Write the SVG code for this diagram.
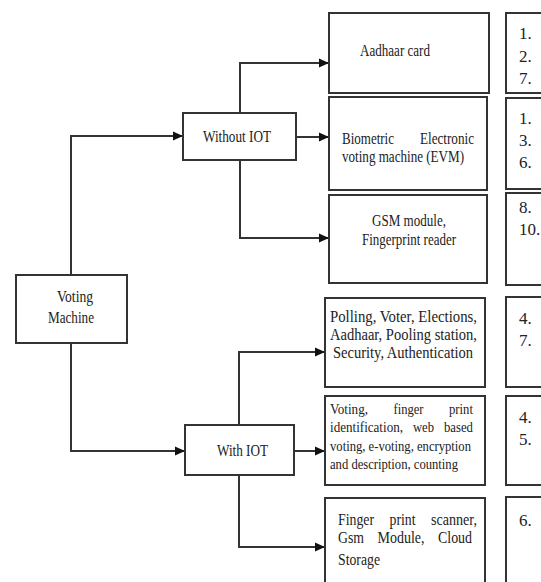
<svg xmlns="http://www.w3.org/2000/svg" width="541" height="582" viewBox="0 0 541 582">
<defs>
<marker id="ah" markerWidth="10" markerHeight="10" refX="10" refY="5" orient="auto" markerUnits="userSpaceOnUse">
<path d="M0,0.5 L10,5 L0,9.5 Z" fill="#111"/>
</marker>
<style>
.box{fill:#fff;stroke:#333;stroke-width:2}
.t{font-family:"Liberation Serif","Times New Roman",serif;font-size:16px;fill:#222}
.m{font-size:16px}
.s{font-size:14px}
.n{font-size:17px}
.c{stroke:#333;stroke-width:2;fill:none}
.a{marker-end:url(#ah)}
</style>
</defs>
<rect width="541" height="582" fill="#fff"/>
<g id="connectors">
<path class="c a" d="M71,275 V136 H183"/>
<path class="c a" d="M71,343 V451 H185"/>
<path class="c a" d="M240,113 V63 H329"/>
<path class="c a" d="M296,137 H329"/>
<path class="c a" d="M240,160 V238 H329"/>
<path class="c a" d="M239,425 V352 H325"/>
<path class="c a" d="M294,451 H325"/>
<path class="c a" d="M239,475 V547 H325"/>
</g>
<g id="voting-machine">
<rect class="box" x="16" y="275" width="111" height="68"/>
<text class="t" x="57" y="302" textLength="36" lengthAdjust="spacingAndGlyphs">Voting</text>
<text class="t" x="48" y="323" textLength="46" lengthAdjust="spacingAndGlyphs">Machine</text>
</g>
<g id="without-iot">
<rect class="box" x="183" y="113" width="113" height="47"/>
<text class="t" x="203" y="142" textLength="68" lengthAdjust="spacingAndGlyphs">Without IOT</text>
</g>
<g id="with-iot">
<rect class="box" x="185" y="425" width="109" height="50"/>
<text class="t" x="217" y="456" textLength="51" lengthAdjust="spacingAndGlyphs">With IOT</text>
</g>
<g id="aadhaar-card">
<rect class="box" x="329" y="13" width="160" height="80"/>
<text class="t" x="360" y="56" textLength="70" lengthAdjust="spacingAndGlyphs">Aadhaar card</text>
</g>
<g id="biometric-evm">
<rect class="box" x="329" y="97" width="158" height="93"/>
<text class="t" x="342" y="144" textLength="52" lengthAdjust="spacingAndGlyphs">Biometric</text>
<text class="t" x="420" y="144" textLength="54" lengthAdjust="spacingAndGlyphs">Electronic</text>
<text class="t" x="342" y="162" textLength="122" lengthAdjust="spacingAndGlyphs">voting machine (EVM)</text>
</g>
<g id="gsm-fingerprint">
<rect class="box" x="329" y="195" width="158" height="88"/>
<text class="t" x="372" y="226" textLength="74" lengthAdjust="spacingAndGlyphs">GSM module,</text>
<text class="t" x="362" y="245" textLength="94" lengthAdjust="spacingAndGlyphs">Fingerprint reader</text>
</g>
<g id="polling-voter">
<rect class="box" x="325" y="298" width="160" height="89"/>
<text class="t m" x="330" y="322" textLength="147" lengthAdjust="spacingAndGlyphs">Polling, Voter, Elections,</text>
<text class="t m" x="330" y="340" textLength="147" lengthAdjust="spacingAndGlyphs">Aadhaar, Pooling station,</text>
<text class="t m" x="333" y="358" textLength="140" lengthAdjust="spacingAndGlyphs">Security, Authentication</text>
</g>
<g id="voting-fingerprint">
<rect class="box" x="325" y="396" width="160" height="89"/>
<text class="t s" x="330" y="414" textLength="38" lengthAdjust="spacingAndGlyphs">Voting,</text>
<text class="t s" x="393.5" y="414" textLength="30" lengthAdjust="spacingAndGlyphs">finger</text>
<text class="t s" x="449" y="414" textLength="24" lengthAdjust="spacingAndGlyphs">print</text>
<text class="t s" x="330" y="432" textLength="73" lengthAdjust="spacingAndGlyphs">identification,</text>
<text class="t s" x="413" y="432" textLength="21" lengthAdjust="spacingAndGlyphs">web</text>
<text class="t s" x="444" y="432" textLength="29" lengthAdjust="spacingAndGlyphs">based</text>
<text class="t s" x="330" y="451" textLength="141" lengthAdjust="spacingAndGlyphs">voting, e-voting, encryption</text>
<text class="t s" x="330" y="469" textLength="128" lengthAdjust="spacingAndGlyphs">and description, counting</text>
</g>
<g id="fingerprint-scanner">
<rect class="box" x="325" y="498" width="160" height="100"/>
<text class="t m" x="338" y="525" textLength="36" lengthAdjust="spacingAndGlyphs">Finger</text>
<text class="t m" x="389.5" y="525" textLength="26" lengthAdjust="spacingAndGlyphs">print</text>
<text class="t m" x="431" y="525" textLength="46" lengthAdjust="spacingAndGlyphs">scanner,</text>
<text class="t m" x="338" y="543" textLength="26" lengthAdjust="spacingAndGlyphs">Gsm</text>
<text class="t m" x="377.5" y="543" textLength="47" lengthAdjust="spacingAndGlyphs">Module,</text>
<text class="t m" x="438" y="543" textLength="34" lengthAdjust="spacingAndGlyphs">Cloud</text>
<text class="t m" x="338" y="565" textLength="42" lengthAdjust="spacingAndGlyphs">Storage</text>
</g>
<g id="refs-1">
<rect class="box" x="506" y="13" width="60" height="80"/>
<text class="t n" x="519" y="39">1.</text>
<text class="t n" x="519" y="62">2.</text>
<text class="t n" x="519" y="84">7.</text>
</g>
<g id="refs-2">
<rect class="box" x="506" y="98" width="60" height="91"/>
<text class="t n" x="519" y="124">1.</text>
<text class="t n" x="519" y="146">3.</text>
<text class="t n" x="519" y="168">6.</text>
</g>
<g id="refs-3">
<rect class="box" x="506" y="193" width="60" height="92"/>
<text class="t n" x="519" y="213">8.</text>
<text class="t n" x="519" y="235">10.</text>
</g>
<g id="refs-4">
<rect class="box" x="506" y="297" width="60" height="90"/>
<text class="t n" x="519" y="324">4.</text>
<text class="t n" x="519" y="346">7.</text>
</g>
<g id="refs-5">
<rect class="box" x="506" y="396" width="60" height="89"/>
<text class="t n" x="519" y="423">4.</text>
<text class="t n" x="519" y="445">5.</text>
</g>
<g id="refs-6">
<rect class="box" x="506" y="497" width="60" height="100"/>
<text class="t n" x="519" y="526">6.</text>
</g>
</svg>
